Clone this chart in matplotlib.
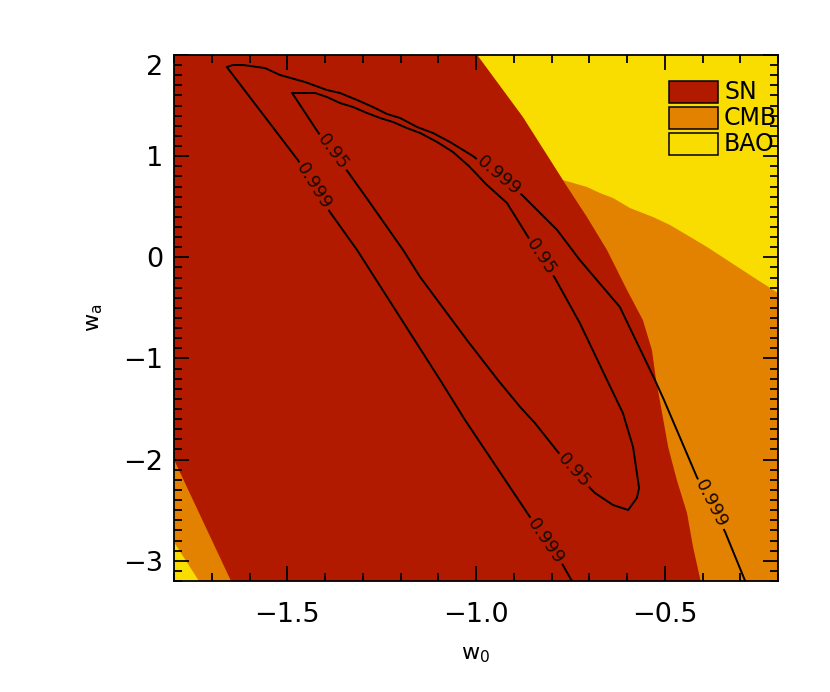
import matplotlib.pyplot as plt
from matplotlib.patches import Rectangle
from matplotlib.ticker import MultipleLocator

# axis ranges
w0_lim = (-1.8, -0.2)
wa_lim = (-3.2, 2.0)

# SN region: right edge (top -> bottom) and left edge (bottom -> top)
sn_right_w0 = [-0.997, -0.876, -0.770, -0.706, -0.653, -0.600, -0.558, -0.534,
               -0.523, -0.507, -0.491, -0.468, -0.441, -0.425, -0.405]
sn_right_wa = [2.0, 1.387, 0.764, 0.398, 0.072, -0.323, -0.620, -0.916,
               -1.213, -1.539, -1.875, -2.202, -2.528, -2.864, -3.2]
sn_left_w0 = [-1.649, -1.8]
sn_left_wa = [-3.2, -2.0]

# CMB region: upper edge against BAO (left -> right), lower-left edge
cmb_upper_w0 = [-0.997, -0.876, -0.770, -0.751, -0.706, -0.672, -0.637, -0.592,
                -0.531, -0.486, -0.441, -0.388, -0.335, -0.266, -0.2]
cmb_upper_wa = [2.0, 1.387, 0.764, 0.744, 0.695, 0.636, 0.586, 0.487,
                0.398, 0.319, 0.220, 0.102, -0.027, -0.195, -0.353]
cmb_lower_w0 = [-1.734, -1.8]
cmb_lower_wa = [-3.2, -2.815]

# 0.999 contour (open, leaves through the bottom)
c999_w0 = [-0.746, -0.770, -0.857, -1.029, -1.095, -1.315, -1.387, -1.472,
           -1.660, -1.644, -1.617, -1.559, -1.519, -1.453, -1.395, -1.360,
           -1.315, -1.273, -1.236, -1.201, -1.156, -1.114, -1.069, -1.008,
           -0.878, -0.785, -0.725, -0.619, -0.526, -0.502, -0.415, -0.340, -0.287]
c999_wa = [-3.2, -3.042, -2.568, -1.609, -1.213, 0.072, 0.448, 0.962,
           1.881, 1.901, 1.901, 1.871, 1.802, 1.733, 1.654, 1.624,
           1.555, 1.486, 1.417, 1.377, 1.288, 1.229, 1.140, 1.001,
           0.616, 0.270, -0.027, -0.491, -1.213, -1.411, -2.172, -2.716, -3.2]

# 0.95 contour (closed)
c95_w0 = [-1.487, -1.426, -1.395, -1.360, -1.326, -1.289, -1.254, -1.220,
          -1.183, -1.148, -1.103, -1.061, -1.016, -0.974, -0.918, -0.862,
          -0.791, -0.725, -0.653, -0.611, -0.584, -0.568, -0.574, -0.597,
          -0.637, -0.685, -0.698, -0.783, -0.844, -0.883, -0.942, -1.024,
          -1.148, -1.193, -1.286, -1.339, -1.419, -1.487]
c95_wa = [1.624, 1.624, 1.585, 1.525, 1.486, 1.427, 1.377, 1.338,
          1.278, 1.229, 1.140, 1.041, 0.893, 0.725, 0.537, 0.201,
          -0.205, -0.650, -1.213, -1.539, -1.875, -2.281, -2.380, -2.498,
          -2.449, -2.330, -2.281, -1.925, -1.638, -1.480, -1.213, -0.818,
          -0.195, 0.072, 0.566, 0.843, 1.239, 1.624]

# contour labels
clab_text = ['0.999', '0.999', '0.999', '0.999', '0.95', '0.95', '0.95']
clab_w0 = [-0.939, -0.377, -0.815, -1.429, -0.828, -0.740, -1.379]
clab_wa = [0.804, -2.439, -2.805, 0.705, 0.003, -2.103, 1.041]
clab_angle = [-40, -63, -55.5, -58, -56.6, -48, -53]
clab_under = ['SN', 'CMB', 'SN', 'SN', 'SN', 'SN', 'SN']

probes = ['SN', 'CMB', 'BAO']
colors = {'SN': '#B21A00', 'CMB': '#E38200', 'BAO': '#F9DC00'}

fig = plt.figure(figsize=(8.3, 6.92), dpi=100)
ax = fig.add_axes([174 / 830, 1 - 581 / 692, 604 / 830, 526 / 692])
ax.set_facecolor(colors['BAO'])

# CMB polygon: top-left corner, BAO boundary, bottom-right corner, lower-left edge
cx = [w0_lim[0]] + cmb_upper_w0 + [w0_lim[1]] + cmb_lower_w0
cy = [wa_lim[1]] + cmb_upper_wa + [wa_lim[0]] + cmb_lower_wa
ax.fill(cx, cy, color=colors['CMB'], lw=0)

sx = [w0_lim[0]] + sn_right_w0 + sn_left_w0
sy = [wa_lim[1]] + sn_right_wa + sn_left_wa
ax.fill(sx, sy, color=colors['SN'], lw=0)

ax.plot(c999_w0, c999_wa, color='black', lw=1.4)
ax.plot(c95_w0, c95_wa, color='black', lw=1.4)

for t, x, y, a, u in zip(clab_text, clab_w0, clab_wa, clab_angle, clab_under):
    ax.text(x, y, t, rotation=a, rotation_mode='anchor', ha='center', va='center',
            fontsize=13, color='#1a0a00',
            bbox=dict(boxstyle='square,pad=0.12', fc=colors[u], ec='none'))

ax.set_xlim(*w0_lim)
ax.set_ylim(*wa_lim)
ax.set_xticks([-1.5, -1.0, -0.5])
ax.set_yticks([-3, -2, -1, 0, 1, 2])
ax.xaxis.set_minor_locator(MultipleLocator(0.1))
ax.yaxis.set_minor_locator(MultipleLocator(0.1))
ax.tick_params(which='both', direction='in', top=True, right=True, width=1.3)
ax.tick_params(which='major', length=11, labelsize=19.5)
ax.tick_params(which='minor', length=5.5)
ax.tick_params(axis='x', pad=15)
ax.tick_params(axis='y', pad=8)
for s in ax.spines.values():
    s.set_linewidth(1.3)
ax.get_yticklabels()[-1].set_verticalalignment('top')

ax.set_xlabel(r'$\mathregular{w_0}$', fontsize=16)
ax.set_ylabel(r'$\mathregular{w_a}$', fontsize=16)
ax.xaxis.set_label_coords(0.5, -0.1407)
ax.xaxis.label.set_verticalalignment('center')
ax.yaxis.set_label_coords(-0.1308, 0.5)
ax.yaxis.label.set_verticalalignment('center')

# legend boxes
for i, p in enumerate(probes):
    yb = 0.9087 - i * 0.0494
    ax.add_patch(Rectangle((0.8195, yb), 0.0811, 0.0418, transform=ax.transAxes,
                           fc=colors[p], ec='black', lw=1.1, zorder=5))
    ax.text(0.9106, yb + 0.0209, p, transform=ax.transAxes, fontsize=17,
            va='center', ha='left', zorder=5)

fig.savefig('out.png', dpi=100)
